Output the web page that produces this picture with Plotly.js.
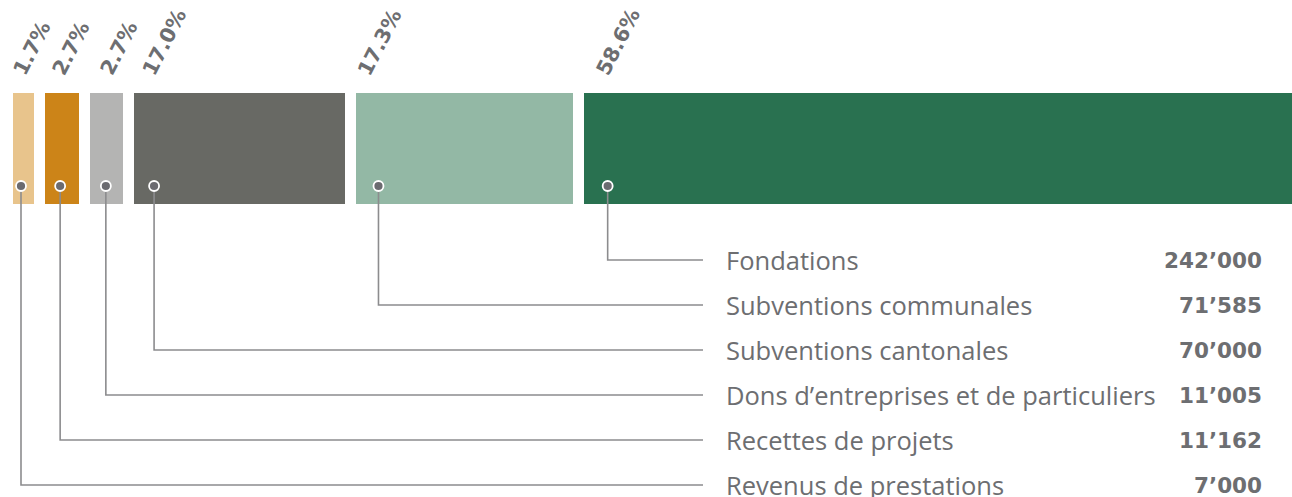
<!DOCTYPE html>
<html>
<head>
<meta charset="utf-8">
<script src="https://cdn.plot.ly/plotly-3.0.1.min.js"></script>
<style>
  html, body { margin: 0; padding: 0; background: #ffffff; }
  #chart { width: 1292px; height: 497px; }
</style>
</head>
<body>
<div id="chart"></div>
<script>
// ---- data ----
const categories = [
  "Revenus de prestations",
  "Recettes de projets",
  "Dons d’entreprises et de particuliers",
  "Subventions cantonales",
  "Subventions communales",
  "Fondations"
];
const values = [7000, 11162, 11005, 70000, 71585, 242000];
const valueLabels = ["7’000", "11’162", "11’005", "70’000", "71’585", "242’000"];
const percentLabels = ["1.7%", "2.7%", "2.7%", "17.0%", "17.3%", "58.6%"];

// ---- styling / layout constants ----
const colors = ["#e8c48c", "#cc8418", "#b4b4b3", "#686964", "#93b8a5", "#297150"];
const W = 1292, H = 497;
const K = 0.00302;          // pixels per unit
const LEFT = 13;            // pixel where first bar starts
const GAP = 11;             // pixel gap between bars
const BAR_TOP = 93, BAR_H = 111;
const DOT_Y = 186;
const dotOffsetPx = [8, 15, 16, 20, 22, 24];
const pctOffsetPx = [-7, 0, 3, 1, -6, 5];
const ROW0 = 260, ROW_STEP = 45;
const LINE_END_PX = 703, LABEL_X = 724, VALUE_X = 1264;
const TXT = "#6d6e71", LINE = "#8c8c8e";

const px2u = p => (p - LEFT) / K;
const gapU = GAP / K;

// bar positions from cumulative values
const lefts = [];
let acc = 0;
values.forEach((v, i) => { lefts.push(acc); acc += v + gapU; });
const centers = values.map((v, i) => lefts[i] + v / 2);

const traces = [];
traces.push({
  type: "bar",
  x: centers,
  y: values.map(() => BAR_H),
  base: values.map(() => BAR_TOP),
  width: values,
  marker: { color: colors, line: { width: 0 } },
  hoverinfo: "skip",
  showlegend: false
});

// connectors
const n = values.length;
values.forEach((v, i) => {
  const row = n - 1 - i;
  const ry = ROW0 + row * ROW_STEP;
  const dx = lefts[i] + dotOffsetPx[i] / K;
  traces.push({
    type: "scatter", mode: "lines",
    x: [dx, dx, px2u(LINE_END_PX)],
    y: [DOT_Y, ry, ry],
    line: { color: LINE, width: 1.6 },
    hoverinfo: "skip", showlegend: false
  });
});
// dots
traces.push({
  type: "scatter", mode: "markers",
  x: values.map((v, i) => lefts[i] + dotOffsetPx[i] / K),
  y: values.map(() => DOT_Y),
  marker: { size: 10, color: "#6b6b70", line: { color: "#ffffff", width: 1.8 } },
  hoverinfo: "skip", showlegend: false
});

const annotations = [];
values.forEach((v, i) => {
  const row = n - 1 - i;
  const ry = ROW0 + row * ROW_STEP;
  annotations.push({
    xref: "paper", yref: "y", x: LABEL_X / W, y: ry,
    xanchor: "left", yanchor: "middle", showarrow: false,
    text: categories[i],
    font: { family: "Open Sans", size: 25.5, color: TXT, weight: 400 }
  });
  annotations.push({
    xref: "paper", yref: "y", x: VALUE_X / W, y: ry,
    xanchor: "right", yanchor: "middle", showarrow: false,
    text: valueLabels[i],
    font: { family: "DejaVu Sans", size: 21.5, color: TXT, weight: 700 }
  });
  annotations.push({
    xref: "x", yref: "y", x: lefts[i] + pctOffsetPx[i] / K, y: 82,
    xanchor: "left", yanchor: "bottom", showarrow: false,
    textangle: -63,
    text: percentLabels[i],
    font: { family: "DejaVu Sans", size: 20.5, color: TXT, weight: 700 }
  });
});

const layout = {
  width: W, height: H,
  margin: { l: 0, r: 0, t: 0, b: 0, pad: 0 },
  paper_bgcolor: "#ffffff", plot_bgcolor: "#ffffff",
  xaxis: { range: [px2u(0), px2u(W)], visible: false, fixedrange: true },
  yaxis: { range: [H, 0], visible: false, fixedrange: true },
  bargap: 0,
  annotations: annotations,
  showlegend: false
};

Plotly.newPlot("chart", traces, layout, { displayModeBar: false, staticPlot: true });
</script>
</body>
</html>
